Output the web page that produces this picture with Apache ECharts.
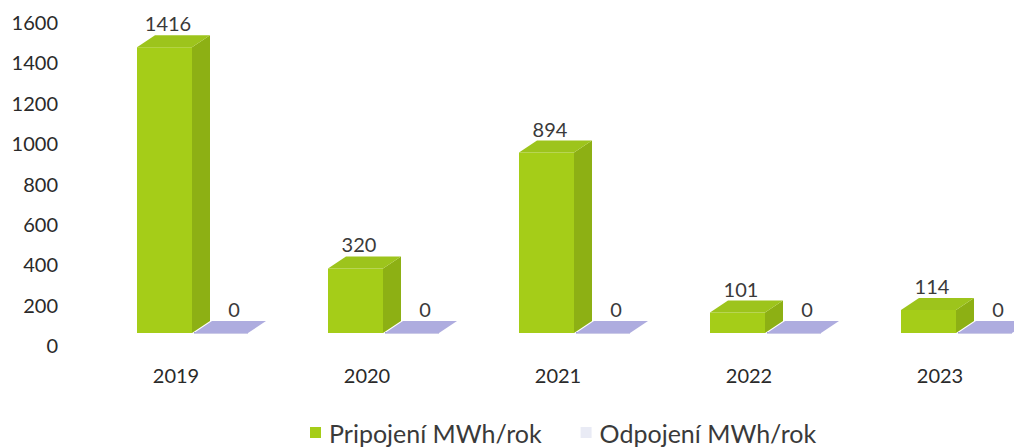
<!DOCTYPE html>
<html>
<head>
<meta charset="utf-8">
<script src="https://cdn.jsdelivr.net/npm/echarts@6/dist/echarts.min.js"></script>
<style>
html,body{margin:0;padding:0;background:#fff;}
#c{width:1014px;height:447px;}
</style>
</head>
<body>
<div id="c"></div>
<script>
const categories = ['2019', '2020', '2021', '2022', '2023'];
const pripojeni = [1416, 320, 894, 101, 114];
const odpojeni = [0, 0, 0, 0, 0];
const seriesNames = ['Pripojení MWh/rok', 'Odpojení MWh/rok'];

const FONT = 'Lato';
const DX = 18, DY = -12, LIFT = 12;

function box(L, R, T, B, c) {
  const kids = [];
  if (B - T > 0.5) {
    kids.push({type: 'rect', shape: {x: L, y: T, width: R - L, height: B - T}, style: {fill: c.front}});
    kids.push({type: 'polygon', shape: {points: [[R, T], [R + DX, T + DY], [R + DX, B + DY], [R, B]]}, style: {fill: c.side}});
  } else {
    kids.push({type: 'rect', shape: {x: L, y: B - 1, width: R - L, height: 1.5}, style: {fill: c.side}});
  }
  kids.push({type: 'polygon', shape: {points: [[L, T], [R, T], [R + DX, T + DY], [L + DX, T + DY]]}, style: {fill: c.top}});
  return kids;
}

function makeRender(offL, offR, colors, labelDx) {
  return function (params, api) {
    const i = api.value(0), v = api.value(1);
    const top = api.coord([i, v]);
    const base = api.coord([i, 0]);
    const cx = top[0];
    const L = cx + offL, R = cx + offR;
    const T = top[1] - LIFT, B = base[1] - LIFT;
    const kids = box(L, R, T, B, colors);
    kids.push({
      type: 'text',
      style: {
        text: String(v), x: cx + labelDx, y: T + DY - 12,
        align: 'center', verticalAlign: 'middle',
        fontFamily: FONT, fontSize: 20, fill: '#3a3a3a'
      }
    });
    return {type: 'group', children: kids};
  };
}

const greenColors = {front: '#a5cd18', side: '#8db014', top: '#9dc41c'};
const purpleColors = {front: '#a9a7dc', side: '#9896cf', top: '#aeacdf'};

const chart = echarts.init(document.getElementById('c'), null, {renderer: 'svg'});
chart.setOption({
  animation: false,
  backgroundColor: '#ffffff',
  grid: {left: 176, right: 74, top: 22, bottom: 102},
  legend: {
    bottom: -3, left: 305,
    itemWidth: 11, itemHeight: 11, itemGap: 39,
    icon: 'rect',
    textStyle: {fontFamily: FONT, fontSize: 25, color: '#3a3a3a', padding: [0, 0, 0, 3]},
    data: [
      {name: seriesNames[0], itemStyle: {color: '#a5cd18'}},
      {name: seriesNames[1], itemStyle: {color: '#e9ebf5'}}
    ]
  },
  xAxis: {
    type: 'category', data: categories, boundaryGap: false,
    axisLine: {show: false}, axisTick: {show: false},
    axisLabel: {margin: 20, fontFamily: FONT, fontSize: 20, color: '#2a2a2a'}
  },
  yAxis: {
    type: 'value', min: 0, max: 1600, interval: 200,
    axisLine: {show: false}, axisTick: {show: false}, splitLine: {show: false},
    axisLabel: {margin: 118, fontFamily: FONT, fontSize: 20, color: '#2a2a2a', formatter: v => String(v)}
  },
  series: [
    {
      name: seriesNames[0], type: 'custom',
      itemStyle: {color: '#a5cd18'},
      renderItem: makeRender(-39, 16, greenColors, -8),
      data: pripojeni.map((v, i) => [i, v])
    },
    {
      name: seriesNames[1], type: 'custom',
      itemStyle: {color: '#e9ebf5'},
      renderItem: makeRender(18, 72, purpleColors, 58),
      data: odpojeni.map((v, i) => [i, v])
    }
  ]
});
</script>
</body>
</html>
